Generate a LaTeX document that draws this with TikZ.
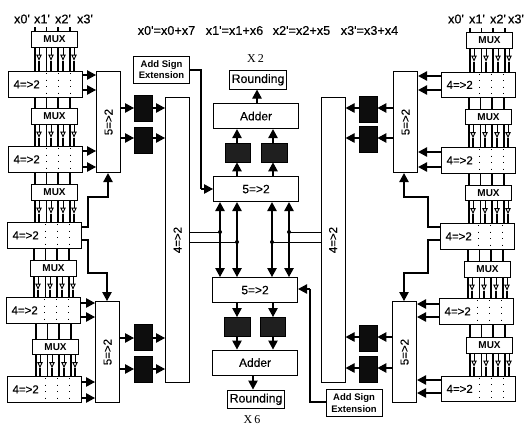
\documentclass[tikz,border=0pt]{standalone}
\usepackage{fontspec}
\setmainfont{Liberation Sans}
\newfontfamily\plainfb{Liberation Sans}[FakeBold=0.25]
\newfontfamily\serifx{Liberation Serif}
\usetikzlibrary{arrows.meta,calc}
\tikzset{
  box/.style={draw,line width=1.1pt,anchor=north west,inner sep=0pt,font=\plainfb\fontsize{11.5}{12}\selectfont},
  muxbox/.style={box,minimum width=46pt,minimum height=15.5pt,font=\normalfont\fontsize{10}{11}\selectfont\bfseries},
  fourbox/.style={box,text width=64pt,inner xsep=5pt,minimum height=25.5pt,align=left},
  fivebox/.style={box,minimum width=24pt,minimum height=101pt},
  tallbox/.style={box,minimum width=24pt,minimum height=285pt},
  centerbox/.style={box,minimum width=85pt,minimum height=25pt,font=\plainfb\fontsize{12}{13}\selectfont},
  roundbox/.style={box,minimum width=57pt,minimum height=18.5pt,font=\plainfb\fontsize{12.3}{13}\selectfont},
  signbox/.style={box,minimum width=56pt,minimum height=27pt,align=center,font=\normalfont\fontsize{9.5}{11.5}\selectfont\bfseries},
  blackv/.style={draw=black,fill=black!95,anchor=north west,inner sep=0pt,minimum width=18pt,minimum height=26pt},
  blackh/.style={draw=black,fill=black!88,anchor=north west,inner sep=0pt,minimum width=25.5pt,minimum height=19pt},
  lbl/.style={inner sep=0pt,font=\plainfb\fontsize{12.7}{13}\selectfont},
  serlbl/.style={inner sep=0pt,font=\serifx\fontsize{12}{13}\selectfont},
  wire/.style={line width=1.1pt},
  thin wire/.style={line width=.8pt},
  arr/.style={line width=1.1pt,-{Triangle[length=9pt,width=9.5pt]}},
  darr/.style={line width=1.2pt,{Triangle[length=9pt,width=9.5pt]}-{Triangle[length=9pt,width=9.5pt]}},
  oarr/.style={line width=.9pt,-{Triangle[open,length=6pt,width=5.5pt]}},
  dots/.style={line width=1pt,dash pattern=on 1pt off 5.5pt}
}
% vertical wires between a MUX and the box below it
\newcommand{\muxdown}[2]{%
  \foreach \a/\b in {4/8,15.5/20,27/32,39/43}{%
    \coordinate (pa) at ($(#1.south west)+(\a,0)$);
    \coordinate (pb) at ($(#1.south west)+(\b,0)$);
    \draw[wire] (pa) -- (pa |- #2.north);
    \draw[oarr] (pb) -- ($(pb)+(0,13)$);
    \draw[wire] ($(pb)+(0,13)$) -- (pb |- #2.north);
  }}
% vertical wires from a 4=>2 box to the MUX below it
\newcommand{\boxdown}[2]{%
  \foreach \a in {4,15.5,27,39}{%
    \coordinate (pa) at ($(#2.north west)+(\a,0)$);
    \draw[wire] (pa |- #1.south) -- (pa);
  }}
% the three dotted columns of a 4=>2 box
\newcommand{\dotcols}[1]{%
  \foreach \a in {38,50.5,62.5}{%
    \draw[dots] ($(#1.north west)+(\a,2)$) -- ($(#1.north west)+(\a,25)$);
  }}
\newcommand{\harrow}[3]{\draw[arr] (#1 |- 0,#3) -- (#2 |- 0,#3);}
\begin{document}
\begin{tikzpicture}[x=1pt,y=-1pt]
\useasboundingbox[fill=white] (0,0) rectangle (524,426);

% --- top texts
\foreach \n/\x/\s in {la/22/x0',lb/42/x1',lc/63/x2',ld/85/x3',ra/456/x0',rb/477/x1',rc/498/x2',rd/516/x3'}{
  \node[lbl] (\n) at (\x,19) {\s};
}
\node[lbl] (eqa) at (166.5,30.5) {x0'=x0+x7};
\node[lbl] (eqb) at (234.5,30.5) {x1'=x1+x6};
\node[lbl] (eqc) at (301.5,30.5) {x2'=x2+x5};
\node[lbl] (eqd) at (369.5,30.5) {x3'=x3+x4};

% --- left column
\node[muxbox] (lm1) at (31,31) {MUX};
\node[fourbox] (lf1) at (8,71) {4=>2};
\node[muxbox] (lm2) at (31,108) {MUX};
\node[fourbox] (lf2) at (8,146) {4=>2};
\node[muxbox] (lm3) at (31,184) {MUX};
\node[fourbox] (lf3) at (7,222) {4=>2};
\node[muxbox] (lm4) at (30,260) {MUX};
\node[fourbox] (lf4) at (6,297) {4=>2};
\node[muxbox] (lm5) at (32,338.5) {MUX};
\node[fourbox] (lf5) at (7,376) {4=>2};
\foreach \i/\j in {1/1,2/2,3/3,4/4,5/5}{\muxdown{lm\i}{lf\j}\dotcols{lf\i}}
\boxdown{lf1}{lm2}\boxdown{lf2}{lm3}\boxdown{lf3}{lm4}\boxdown{lf4}{lm5}
\foreach \a/\n in {4/la,15.5/lb,27/lc,39/ld}{
  \coordinate (pa) at ($(lm1.north west)+(\a,0)$);
  \draw[wire] ($(pa)+(0,-4)$) -- (pa);
}
\node[fivebox] (l5a) at (96,71) {\rotatebox{90}{5=>2}};
\node[fivebox] (l5b) at (95,301) {\rotatebox{90}{5=>2}};
\node[blackv] (lb1) at (134,95) {};
\node[blackv] (lb2) at (134,127) {};
\node[blackv] (lb3) at (134,324) {};
\node[blackv] (lb4) at (134,356) {};
\node[tallbox] (lt) at (165,97) {\rotatebox{90}{4=>2}};
\node[signbox] (ls) at (133,55.5) {Add Sign\\Extension};

\harrow{lf1.east}{l5a.west}{75}\harrow{lf1.east}{l5a.west}{90}
\harrow{lf2.east}{l5a.west}{151}\harrow{lf2.east}{l5a.west}{167}
\harrow{lf4.east}{l5b.west}{303}\harrow{lf4.east}{l5b.west}{317}
\harrow{lf5.east}{l5b.west}{382}\harrow{lf5.east}{l5b.west}{398}
\harrow{l5a.east}{lb1.west}{108}\harrow{lb1.east}{lt.west}{108}
\harrow{l5a.east}{lb2.west}{138}\harrow{lb2.east}{lt.west}{138}
\harrow{l5b.east}{lb3.west}{338}\harrow{lb3.east}{lt.west}{338}
\harrow{l5b.east}{lb4.west}{369}\harrow{lb4.east}{lt.west}{369}
\draw[arr] (lf3.east |- 0,227) -| (88,197) -| (l5a.south -| 108,0);
\draw[arr] (lf3.east |- 0,240) -| (88,273) -| (l5b.north -| 107,0);

% --- centre top
\node[serlbl] (x2) at (255.5,59) {X\,2};
\node[roundbox] (rt) at (229,70) {Rounding};
\node[centerbox] (at) at (213,103) {Adder};
\node[blackh] (bt1) at (224.5,143) {};
\node[blackh] (bt2) at (261,143) {};
\node[centerbox] (ft) at (213,176) {5=>2};
\draw[arr] (at.north -| 257,0) -- (rt.south -| 257,0);
\foreach \b/\x in {bt1/237,bt2/273}{
  \draw[arr] (ft.north -| \x,0) -- (\b.south -| \x,0);
  \draw[arr] (\b.north -| \x,0) -- (at.south -| \x,0);
}
\draw[wire] (ls.east |- 0,70) -| (201,189);
\draw[arr] (201,189) -- (ft.west |- 0,189);

% --- centre bottom
\node[centerbox] (fb) at (212,277) {5=>2};
\node[blackh] (bb1) at (224,317) {};
\node[blackh] (bb2) at (259.5,317) {};
\node[centerbox] (ab) at (212,349.5) {Adder};
\node[roundbox] (rb) at (227,389.5) {Rounding};
\node[serlbl] (x6) at (252,420) {X\,6};
\draw[arr] (ab.south -| 253,0) -- (rb.north -| 253,0);
\foreach \b/\x in {bb1/237,bb2/273}{
  \draw[arr] (fb.south -| \x,0) -- (\b.north -| \x,0);
  \draw[arr] (\b.south -| \x,0) -- (ab.north -| \x,0);
}

% --- right column
\node[muxbox] (rm1) at (466,32) {MUX};
\node[fourbox] (rf1) at (441,71.5) {4=>2};
\node[muxbox] (rm2) at (465,108.5) {MUX};
\node[fourbox] (rf2) at (441,147) {4=>2};
\node[muxbox] (rm3) at (465,184.5) {MUX};
\node[fourbox] (rf3) at (440,223) {4=>2};
\node[muxbox] (rm4) at (464,261) {MUX};
\node[fourbox] (rf4) at (439,298) {4=>2};
\node[muxbox] (rm5) at (466,337) {MUX};
\node[fourbox] (rf5) at (441,375.5) {4=>2};
\foreach \i/\j in {1/1,2/2,3/3,4/4,5/5}{\muxdown{rm\i}{rf\j}\dotcols{rf\i}}
\boxdown{rf1}{rm2}\boxdown{rf2}{rm3}\boxdown{rf3}{rm4}\boxdown{rf4}{rm5}
\foreach \a in {4,15.5,27,39}{
  \coordinate (pa) at ($(rm1.north west)+(\a,0)$);
  \draw[wire] ($(pa)+(0,-4)$) -- (pa);
}
\node[fivebox] (r5a) at (393,71) {\rotatebox{90}{5=>2}};
\node[fivebox] (r5b) at (392,301) {\rotatebox{90}{5=>2}};
\node[blackv] (rb1) at (359,96) {};
\node[blackv] (rb2) at (359,126) {};
\node[blackv] (rb3) at (359,325) {};
\node[blackv] (rb4) at (359,355.5) {};
\node[tallbox] (rt2) at (320.5,97) {\rotatebox{90}{4=>2}};
\node[signbox] (rs) at (325.5,389) {Add Sign\\Extension};

\harrow{rf1.west}{r5a.east}{76}\harrow{rf1.west}{r5a.east}{90}
\harrow{rf2.west}{r5a.east}{152}\harrow{rf2.west}{r5a.east}{167}
\harrow{rf4.west}{r5b.east}{304}\harrow{rf4.west}{r5b.east}{317}
\harrow{rf5.west}{r5b.east}{380}\harrow{rf5.west}{r5b.east}{393}
\harrow{r5a.west}{rb1.east}{108}\harrow{rb1.west}{rt2.east}{108}
\harrow{r5a.west}{rb2.east}{138}\harrow{rb2.west}{rt2.east}{138}
\harrow{r5b.west}{rb3.east}{337}\harrow{rb3.west}{rt2.east}{337}
\harrow{r5b.west}{rb4.east}{368}\harrow{rb4.west}{rt2.east}{368}
\draw[arr] (rf3.west |- 0,227) -| (428,197) -| (r5a.south -| 404,0);
\draw[arr] (rf3.west |- 0,240) -| (428,273) -| (r5b.north -| 404,0);
\draw[wire] (rs.west |- 0,402) -| (310,289);
\draw[arr] (310,289) -- (fb.east |- 0,289);

% --- centre double arrows and tap lines
\foreach \x in {220,237,272,289}{
  \draw[darr] (ft.south -| \x,0) -- (fb.north -| \x,0);
}
\draw[thin wire] (lt.east |- 0,232) -- (220,232);
\draw[thin wire] (lt.east |- 0,242) -- (237,242);
\draw[thin wire] (rt2.west |- 0,232) -- (289,232);
\draw[thin wire] (rt2.west |- 0,242) -- (272,242);
\foreach \x/\y in {220/232,237/242,272/242,289/232}{
  \fill (\x,\y) circle (2pt);
}
\end{tikzpicture}
\end{document}
